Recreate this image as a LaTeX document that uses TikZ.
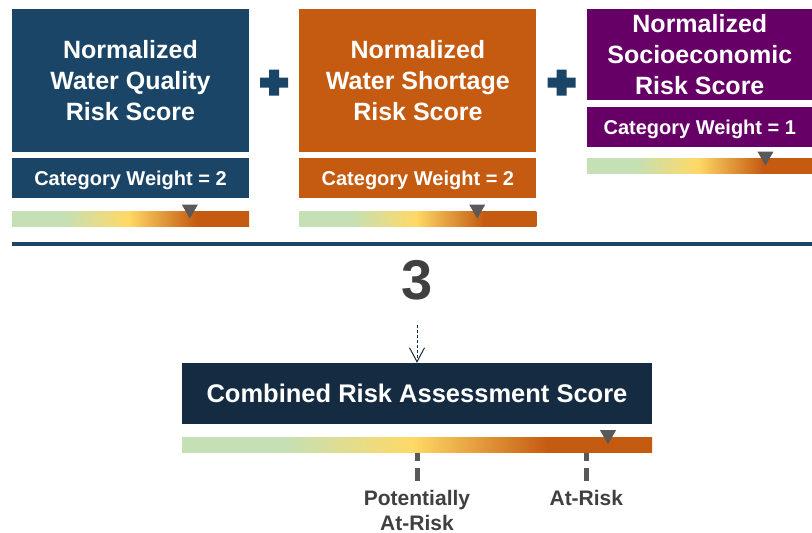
\documentclass[tikz,border=0pt]{standalone}
\usepackage{fontspec}
\setmainfont{Liberation Sans}
\usetikzlibrary{positioning,calc,arrows.meta}

\definecolor{qualblue}{HTML}{1B4567}
\definecolor{shortorange}{HTML}{C55A11}
\definecolor{socpurple}{HTML}{660066}
\definecolor{navy}{HTML}{152B42}
\definecolor{bargreen}{HTML}{C5E0B4}
\definecolor{baryellow}{HTML}{FFD966}
\definecolor{markgray}{HTML}{595959}
\definecolor{numgray}{HTML}{404040}

% green -> yellow -> orange risk scale
\pgfdeclarehorizontalshading{riskbar}{100bp}{color(0bp)=(bargreen); color(36bp)=(bargreen); color(49.5bp)=(baryellow); color(64bp)=(shortorange); color(100bp)=(shortorange)}

\begin{document}
\begin{tikzpicture}[x=1pt,y=1pt,inner sep=0pt,
  scorebox/.style={text=white,font=\bfseries\fontsize{25}{31}\selectfont,align=center,minimum width=237,minimum height=143},
  weightbox/.style={text=white,font=\bfseries\fontsize{20}{24}\selectfont,text depth=0pt,minimum width=237,minimum height=40},
  bar/.style={shade,shading=riskbar,minimum width=237,minimum height=15},
  marker/.style={fill=markgray},
  plus/.style={fill=qualblue},
  tick/.style={draw=markgray,line width=5pt,dash pattern=on 8pt off 7pt on 13pt off 10pt},
  level/.style={text=numgray,font=\bfseries\fontsize{21}{25}\selectfont,align=center}]
\useasboundingbox (0,0) rectangle (812,-533);

\node[scorebox,fill=qualblue] (WQ) at (130.5,-80.5) {Normalized\\Water Quality\\Risk Score};
\node[weightbox,fill=qualblue] (WQw) [below=6pt of WQ] {Category Weight = 2};
\node[bar] (WQbar) [below=13pt of WQw] {};

\node[scorebox,fill=shortorange] (WS) [right=50pt of WQ] {Normalized\\Water Shortage\\Risk Score};
\node[weightbox,fill=shortorange] (WSw) [below=6pt of WS] {Category Weight = 2};
\node[bar] (WSbar) [below=13pt of WSw] {};

\node[scorebox,fill=socpurple,minimum width=226,minimum height=91] (SE) [right=50pt of WS.north east,anchor=north west] {Normalized\\Socioeconomic\\Risk Score};
\node[weightbox,fill=socpurple,minimum width=226] (SEw) [below=7pt of SE] {Category Weight = 1};
\node[bar,minimum width=226] (SEbar) [below=11pt of SEw] {};

% plus signs
\coordinate (plusA) at ($(WQ.east)!0.5!(WS.west)+(0,-2)$);
\coordinate (plusB) at ($(WS.east)!0.5!(SE.west|-WS.east)+(0,-2)$);
\fill[plus] (plusA) +(-14,-5) rectangle +(14,5) (plusA) +(-5,-13) rectangle +(5,13);
\fill[plus] (plusB) +(-14,-5) rectangle +(14,5) (plusB) +(-5,-13) rectangle +(5,13);

% markers on the bars
\fill[marker] ($(WQbar.north west)!0.75!(WQbar.north east)$) +(-8,7) -- +(8,7) -- +(0,-7) -- cycle;
\fill[marker] ($(WSbar.north west)!0.75!(WSbar.north east)$) +(-8,7) -- +(8,7) -- +(0,-7) -- cycle;
\fill[marker] ($(SEbar.north west)!0.79!(SEbar.north east)$) +(-8,7) -- +(8,7) -- +(0,-7) -- cycle;

\coordinate (ruleL) at (12,-244);
\coordinate (ruleR) at (812,-244);
\draw[qualblue,line width=4pt] (ruleL) -- (ruleR);

\node[text=numgray,font=\bfseries\fontsize{56}{60}\selectfont] (three) at (417,-280) {3};

\node[fill=navy,text=white,font=\bfseries\fontsize{25.5}{30}\selectfont,minimum width=470,minimum height=61] (CRA) at (417,-393.5) {Combined Risk Assessment Score};
\node[bar,minimum width=470] (CRAbar) [below=13pt of CRA] {};
\fill[marker] ($(CRAbar.north west)!0.906!(CRAbar.north east)$) +(-8,7) -- +(8,7) -- +(0,-7) -- cycle;

\path (three) edge [navy,line width=1pt,dash pattern=on 3pt off 2pt,-{Straight Barb[length=14pt,width=15pt]},shorten <=25pt] (CRA);

% thresholds
\coordinate (potA) at ($(CRAbar.south west)!0.5!(CRAbar.south east)$);
\coordinate (potB) at ($(potA)+(0,-28)$);
\coordinate (riskA) at ($(CRAbar.south west)!0.86!(CRAbar.south east)$);
\coordinate (riskB) at ($(riskA)+(0,-28)$);
\draw[tick] (potA) -- (potB);
\draw[tick] (riskA) -- (riskB);
\node[level] (pot) [below=9pt of potB] {Potentially\\At-Risk};
\node[level] (risk) [below=9pt of riskB] {At-Risk};

\end{tikzpicture}
\end{document}
